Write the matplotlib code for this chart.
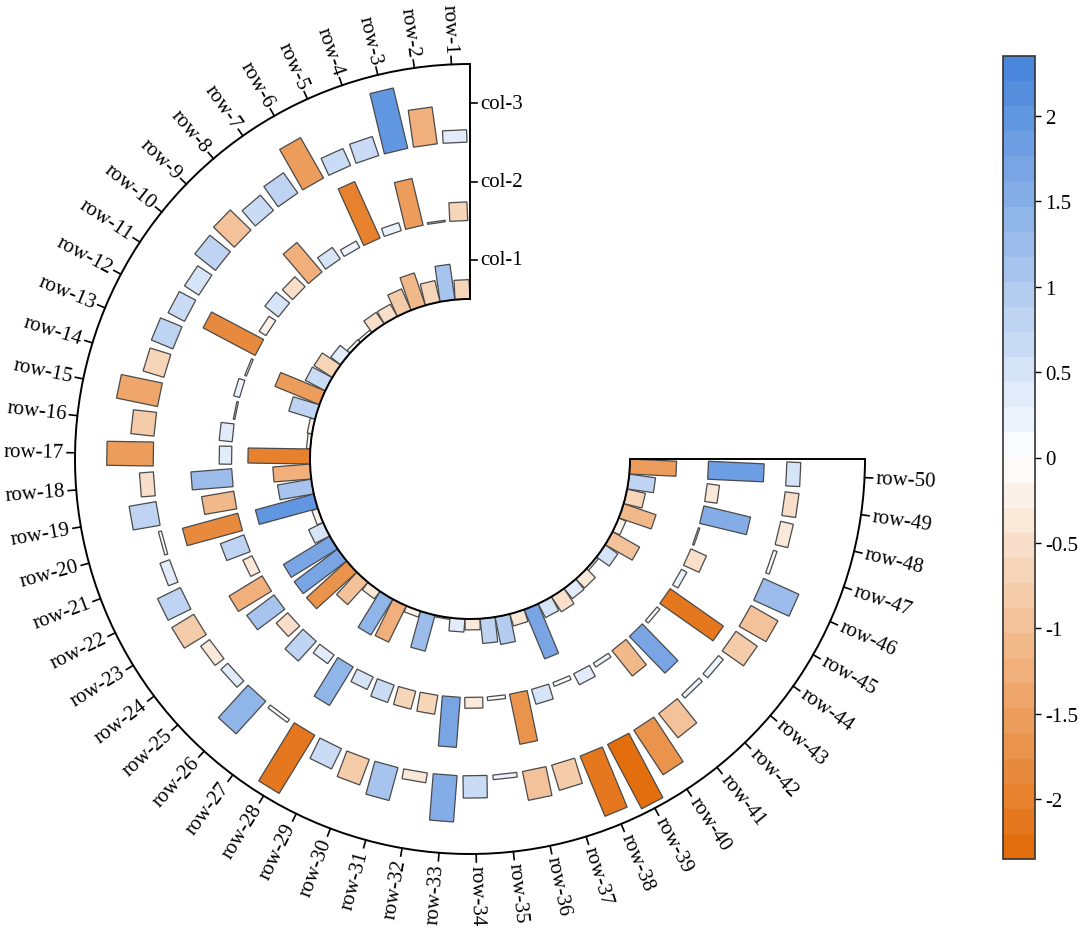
import numpy as np
import matplotlib
matplotlib.use("Agg")
import matplotlib.pyplot as plt
from matplotlib.colors import LinearSegmentedColormap, Normalize
from matplotlib.patches import Polygon, Arc
from matplotlib.cm import ScalarMappable

plt.rcParams['font.family'] = ['Liberation Serif', 'DejaVu Serif']
plt.rcParams['axes.unicode_minus'] = False

# data
rows = [f"row-{i}" for i in range(1, 51)]
cols = ["col-1", "col-2", "col-3"]

col1 = [-0.62, 1.15, -0.7, -1.1, -0.75, -0.45, -0.45, 0.1, 0.12, 0.4,
        -0.7, 0.72, -1.55, 0.88, -0.15, -0.12, -2.0, -1.2, 1.1, 1.95,
        -0.2, 0.52, 1.75, 1.75, -1.75, -0.97, -0.3, 1.35, -1.3, -0.2,
        1.2, -0.05, 0.42, -0.35, 0.8, 0.9, -0.4, 1.72, 0.5, -0.58,
        0.42, -0.4, 0.08, 0.5, -1.0, -0.25, -1.1, -0.6, 0.85, -1.5]
col2 = [-0.6, -0.05, -1.55, 0.27, -2.0, 0.24, 0.45, -1.25, -0.46, 0.56,
        -0.26, -1.9, -0.06, 0.2, -0.05, 0.42, 0.4, 1.32, -1.05, -1.85,
        0.81, -0.33, -1.25, 1.1, -0.5, 0.86, 0.35, 1.46, 0.45, 0.6,
        -0.6, -0.62, 1.62, -0.35, 0.12, -1.65, 0.5, 0.13, 0.4, 0.15,
        -1.05, 1.65, 0.12, -2.1, 0.2, -0.55, -0.05, 1.55, -0.4, 1.8]
col3 = [0.4, -1.2, 2.0, 0.65, 0.6, -1.5, 0.8, 0.65, -0.93, 0.85,
        0.55, 0.6, 0.75, -0.7, -1.35, -0.75, -1.5, -0.45, 0.88, 0.1,
        0.33, 0.82, -0.83, -0.36, 0.3, 1.42, 0.12, -2.2, 0.73, -0.88,
        1.1, -0.32, 1.5, 0.72, 0.15, -0.95, -0.85, -2.1, -2.35, -1.72,
        -1.0, 0.15, 0.2, -0.84, -1.0, 1.25, 0.12, -0.42, -0.45, 0.45]

cbar_ticks = [-2, -1.5, -1, -0.5, 0, 0.5, 1, 1.5, 2]
cbar_labels = ["-2", "-1.5", "-1", "-0.5", "0", "0.5", "1", "1.5", "2"]
vmin, vmax = -2.35, 2.35

# figure, drawn in pixel-like data units
W, H = 1080, 929
fig = plt.figure(figsize=(W / 100, H / 100), dpi=100)
ax = fig.add_axes([0, 0, 1, 1])
ax.set_xlim(0, W)
ax.set_ylim(0, H)
ax.set_aspect('equal')
ax.axis('off')

cx, cy = 470, 469
r_in, r_out = 160, 395
ring_w = (r_out - r_in) / 3
start, span = 90, 270
step = span / len(rows)
scale = 31          # radial length per unit value
bar_w = [15, 18, 24]

cmap = LinearSegmentedColormap.from_list('ob', ['#E36E0E', '#FFFFFF', '#4A86DB'], N=32)
norm = Normalize(vmin, vmax)

center = np.array([cx, cy])
for j, vals in enumerate([col1, col2, col3]):
    r0 = r_in + j * ring_w
    for i, v in enumerate(vals):
        th = np.deg2rad(start + step * (i + 0.5))
        u = np.array([np.cos(th), np.sin(th)])
        t = np.array([-np.sin(th), np.cos(th)])
        L = abs(v) * scale
        hw = bar_w[j] / 2
        p0 = center + u * r0
        p1 = center + u * (r0 + L)
        pts = [p0 - t * hw, p0 + t * hw, p1 + t * hw, p1 - t * hw]
        ax.add_patch(Polygon(pts, closed=True, fc=cmap(norm(v)),
                             ec='#4a4a4a', lw=0.9, zorder=2))

# frame: arcs and straight edges
for r in (r_in, r_out):
    ax.add_patch(Arc((cx, cy), 2 * r, 2 * r, theta1=start, theta2=start + span,
                     color='black', lw=1.4, zorder=3))
ax.plot([cx, cx], [cy + r_in, cy + r_out], color='black', lw=1.4, zorder=3)
ax.plot([cx + r_in, cx + r_out], [cy, cy], color='black', lw=1.4, zorder=3)

# column ticks / labels
for j, name in enumerate(cols):
    rc = r_in + (j + 0.5) * ring_w
    ax.plot([cx, cx + 7], [cy + rc, cy + rc], color='black', lw=1.2)
    ax.text(cx + 10, cy + rc, name, ha='left', va='center', fontsize=15)

# row ticks / labels
for i, name in enumerate(rows):
    deg = start + step * (i + 0.5)
    th = np.deg2rad(deg)
    u = np.array([np.cos(th), np.sin(th)])
    a = center + u * r_out
    b = center + u * (r_out + 8)
    ax.plot([a[0], b[0]], [a[1], b[1]], color='black', lw=1.2)
    p = center + u * (r_out + 11)
    if deg < 270:
        rot, ha = deg - 180, 'right'
    else:
        rot, ha = deg - 360, 'left'
    ax.text(p[0], p[1], name, rotation=rot, rotation_mode='anchor',
            ha=ha, va='center', fontsize=15)

# colorbar
cax = fig.add_axes([1003 / W, (H - 860) / H, 32 / W, 803 / H])
cb = fig.colorbar(ScalarMappable(norm=norm, cmap=cmap), cax=cax)
cb.set_ticks(cbar_ticks, labels=cbar_labels)
cb.outline.set_linewidth(1.2)
cb.outline.set_edgecolor('#333333')
cax.tick_params(labelsize=15, length=4, width=1)

fig.savefig("out.png", dpi=100)
